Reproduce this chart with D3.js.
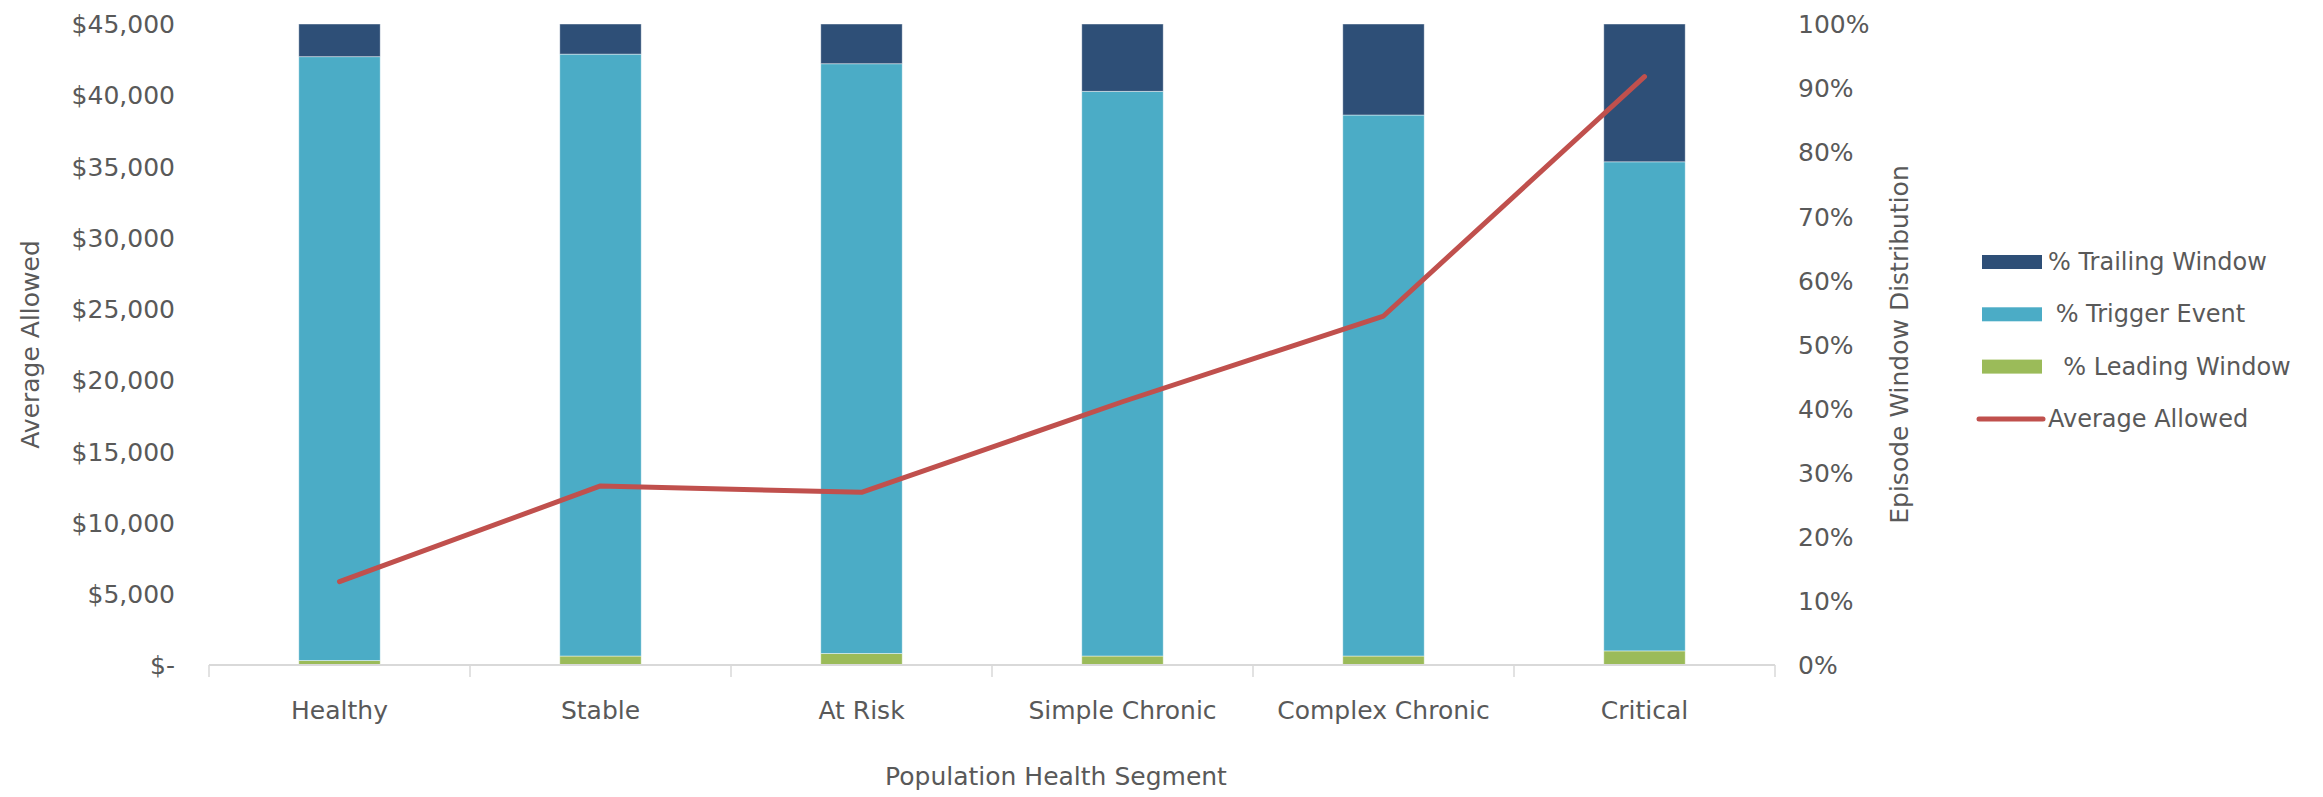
<!DOCTYPE html>
<html>
<head>
<meta charset="utf-8">
<script src="https://cdn.jsdelivr.net/npm/d3@7"></script>
<style>
  html, body { margin: 0; padding: 0; background: #fff; }
  svg text { font-family: "DejaVu Sans", sans-serif; fill: #595959; white-space: pre; }
</style>
</head>
<body>
<svg id="chart" width="2323" height="797"></svg>
<script>
// Population health segments on the x axis
const segments = ["Healthy", "Stable", "At Risk", "Simple Chronic", "Complex Chronic", "Critical"];

// Episode window distribution (share of episode spend), stacked bottom to top
const leadingPct  = [0.007, 0.014, 0.018, 0.014, 0.014, 0.022];
const triggerPct  = [0.942, 0.939, 0.920, 0.881, 0.844, 0.763];
const trailingPct = [0.051, 0.047, 0.062, 0.105, 0.142, 0.215];

// Average allowed amount per segment (left axis)
const avgAllowed = [5850, 12570, 12120, 18480, 24500, 41300];

// Axis ticks
const dollarTicks = [0, 5000, 10000, 15000, 20000, 25000, 30000, 35000, 40000, 45000];
const pctTicks = [0, 0.1, 0.2, 0.3, 0.4, 0.5, 0.6, 0.7, 0.8, 0.9, 1.0];

// Legend entries
const legendLabels = ["% Trailing Window", " % Trigger Event", "  % Leading Window", "Average Allowed"];

const colors = {
  trailing: "#2E4F77",
  trigger: "#4BACC6",
  leading: "#9BBB59",
  line: "#C0504D",
  axis: "#D9D9D9"
};

const svg = d3.select("#chart");
const plot = { left: 209, right: 1775, top: 24, bottom: 665 };

const x = d3.scaleBand()
  .domain(segments)
  .range([plot.left, plot.right])
  .paddingInner(0.688)
  .paddingOuter(0.344);

const yLeft = d3.scaleLinear().domain([0, 45000]).range([plot.bottom, plot.top]);
const yRight = d3.scaleLinear().domain([0, 1]).range([plot.bottom, plot.top]);

// Stack the three window shares
const rows = segments.map((s, i) => ({
  segment: s,
  leading: leadingPct[i],
  trigger: triggerPct[i],
  trailing: trailingPct[i]
}));
const keys = ["leading", "trigger", "trailing"];
const stacked = d3.stack().keys(keys)(rows);

svg.append("g")
  .selectAll("g")
  .data(stacked)
  .join("g")
    .attr("fill", d => colors[d.key])
  .selectAll("rect")
  .data(d => d)
  .join("rect")
    .attr("x", d => x(d.data.segment))
    .attr("width", x.bandwidth())
    .attr("y", d => yRight(d[1]))
    .attr("height", d => yRight(d[0]) - yRight(d[1]))
    .attr("stroke", "rgba(255,255,255,0.55)")
    .attr("stroke-width", 0.8);

// Category axis: baseline plus boundary ticks between categories
const xAxis = svg.append("g").attr("transform", `translate(0,${plot.bottom})`);
xAxis.append("line")
  .attr("x1", plot.left).attr("x2", plot.right)
  .attr("y1", 0).attr("y2", 0)
  .attr("stroke", colors.axis).attr("stroke-width", 2);
const gap = (x.step() - x.bandwidth()) / 2;
const bounds = segments.map(s => x(s) - gap).concat([plot.right]);
xAxis.selectAll("line.tick")
  .data(bounds)
  .join("line")
    .attr("class", "tick")
    .attr("x1", d => d).attr("x2", d => d)
    .attr("y1", 0).attr("y2", 12)
    .attr("stroke", colors.axis).attr("stroke-width", 1.5);
xAxis.selectAll("text")
  .data(segments)
  .join("text")
    .attr("x", d => x(d) + x.bandwidth() / 2)
    .attr("y", 45)
    .attr("text-anchor", "middle")
    .attr("dominant-baseline", "central")
    .style("font-size", "25px")
    .text(d => d);

// Left axis: dollars
const fmtDollar = v => v === 0 ? "$-" : "$" + d3.format(",")(v);
const leftAxis = d3.axisLeft(yLeft).tickValues(dollarTicks).tickFormat(fmtDollar).tickSize(0).tickPadding(0);
const gl = svg.append("g").attr("transform", "translate(175,0)").call(leftAxis);
gl.select(".domain").remove();
gl.selectAll("text")
  .style("font-size", "25px")
  .attr("fill", null)
  .attr("dy", "0.35em");

// Right axis: percent
const rightAxis = d3.axisRight(yRight).tickValues(pctTicks).tickFormat(d3.format(".0%")).tickSize(0).tickPadding(0);
const gr = svg.append("g").attr("transform", "translate(1798,0)").call(rightAxis);
gr.select(".domain").remove();
gr.selectAll("text")
  .style("font-size", "25px")
  .attr("fill", null)
  .attr("dy", "0.35em");

// Average allowed line
const line = d3.line()
  .x((d, i) => x(segments[i]) + x.bandwidth() / 2)
  .y(d => yLeft(d));
svg.append("path")
  .datum(avgAllowed)
  .attr("d", line)
  .attr("fill", "none")
  .attr("stroke", colors.line)
  .attr("stroke-width", 5)
  .attr("stroke-linejoin", "round")
  .attr("stroke-linecap", "round");

// Axis titles
const midY = (plot.top + plot.bottom) / 2;
svg.append("text")
  .attr("transform", `translate(30,${midY}) rotate(-90)`)
  .attr("text-anchor", "middle")
  .attr("dominant-baseline", "central")
  .style("font-size", "25px")
  .text("Average Allowed");
svg.append("text")
  .attr("transform", `translate(1899,${midY}) rotate(-90)`)
  .attr("text-anchor", "middle")
  .attr("dominant-baseline", "central")
  .style("font-size", "25px")
  .text("Episode Window Distribution");
svg.append("text")
  .attr("x", 1056)
  .attr("y", 776)
  .attr("text-anchor", "middle")
  .attr("dominant-baseline", "central")
  .style("font-size", "25px")
  .text("Population Health Segment");

// Legend
const legendColors = [colors.trailing, colors.trigger, colors.leading, colors.line];
const legend = svg.append("g").attr("transform", "translate(1982,262)");
const items = legend.selectAll("g")
  .data(legendLabels)
  .join("g")
    .attr("transform", (d, i) => `translate(0,${i * 52.3})`);
items.each(function (d, i) {
  const g = d3.select(this);
  if (i < 3) {
    g.append("rect")
      .attr("x", 0).attr("y", -7)
      .attr("width", 60).attr("height", 14)
      .attr("fill", legendColors[i]);
  } else {
    g.append("line")
      .attr("x1", -3).attr("x2", 61)
      .attr("y1", 0).attr("y2", 0)
      .attr("stroke", legendColors[i])
      .attr("stroke-width", 5)
      .attr("stroke-linecap", "round");
  }
  g.append("text")
    .attr("x", 66)
    .attr("y", 0)
    .attr("dominant-baseline", "central")
    .style("font-size", "24px")
    .text(d);
});
</script>
</body>
</html>
